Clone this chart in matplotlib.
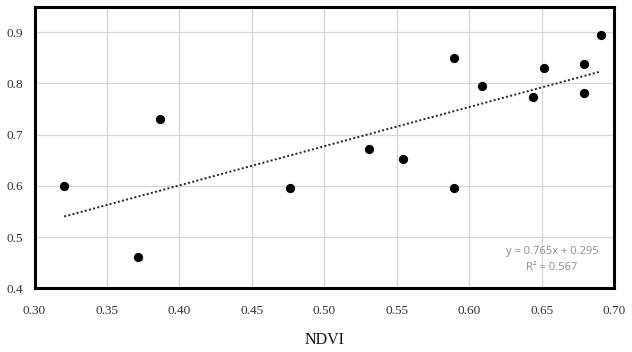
import numpy as np
import matplotlib
matplotlib.use('Agg')
import matplotlib.pyplot as plt

# NDVI values and the measured variable
ndvi = [0.3205, 0.3712, 0.3865, 0.4762, 0.5310, 0.5546, 0.5894, 0.5894,
        0.6087, 0.6444, 0.6516, 0.6793, 0.6793, 0.6908]
valor = [0.600, 0.462, 0.731, 0.596, 0.672, 0.653, 0.849, 0.596,
         0.795, 0.774, 0.830, 0.839, 0.782, 0.895]

# linear fit shown in the chart
pendiente = 0.765
intercepto = 0.295
r2 = 0.567

xticks = [0.30, 0.35, 0.40, 0.45, 0.50, 0.55, 0.60, 0.65, 0.70]
yticks = [0.4, 0.5, 0.6, 0.7, 0.8, 0.9]

fig = plt.figure(figsize=(6.32, 3.52), dpi=100)
ax = fig.add_axes([0.0546, 0.181, 0.917, 0.800])

ax.scatter(ndvi, valor, s=32, color='black', zorder=3)

xl = np.array([min(ndvi), max(ndvi)])
ax.plot(xl, pendiente * xl + intercepto, color='#222222', lw=1.4,
        linestyle=(0, (1, 1.2)), zorder=2)

ax.set_xlim(0.30, 0.70)
ax.set_ylim(0.4, 0.95)
ax.set_xticks(xticks)
ax.set_yticks(yticks)
ax.set_xticklabels(['%.2f' % t for t in xticks], family='Liberation Serif', fontsize=9.5, color='#333333')
ax.set_yticklabels(['%.1f' % t for t in yticks], family='Liberation Serif', fontsize=9.5, color='#333333')
ax.tick_params(axis='x', length=0, pad=12)
ax.tick_params(axis='y', length=0, pad=8)
ax.grid(True, color='#d5d5d5', lw=0.9)
ax.set_axisbelow(True)
for s in ax.spines.values():
    s.set_linewidth(2.2)
    s.set_color('black')

ax.set_xlabel('NDVI', family='Liberation Serif', fontsize=11.5, color='#111111', labelpad=11)

ax.text(0.893, 0.132, 'y = %.3fx + %.3f' % (pendiente, intercepto), transform=ax.transAxes,
        ha='center', va='center', fontsize=8, color='#8c8c8c', family='Open Sans')
ax.text(0.893, 0.073, 'R² = %.3f' % r2, transform=ax.transAxes,
        ha='center', va='center', fontsize=8, color='#8c8c8c', family='Open Sans')

fig.savefig('out.png', dpi=100)
